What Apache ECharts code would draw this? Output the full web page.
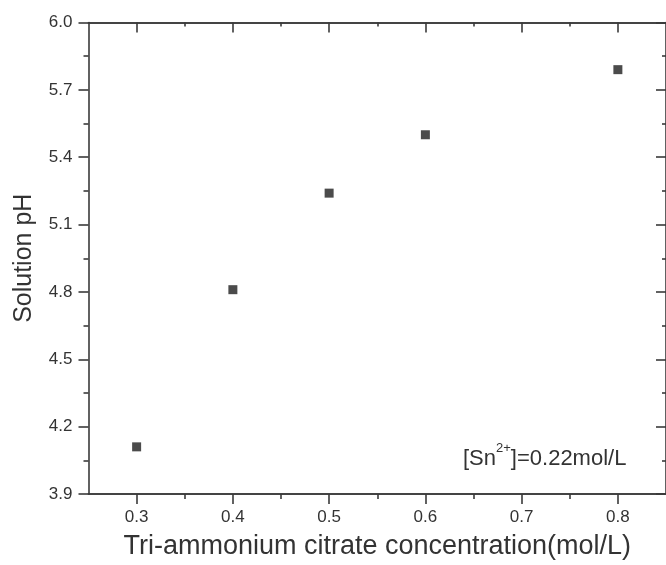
<!DOCTYPE html>
<html>
<head>
<meta charset="utf-8">
<script src="https://cdn.jsdelivr.net/npm/echarts@6/dist/echarts.min.js"></script>
<style>html,body{margin:0;padding:0;background:#fff;}#c{width:666px;height:565px;}</style>
</head>
<body>
<div id="c"></div>
<script>
const concentration = [0.3, 0.4, 0.5, 0.6, 0.8];
const solutionPH = [4.11, 4.81, 5.24, 5.50, 5.79];
const xMajorTicks = [0.3, 0.4, 0.5, 0.6, 0.7, 0.8];
const xMinorTicks = [0.35, 0.45, 0.55, 0.65, 0.75];
const xTitle = 'Tri-ammonium citrate concentration(mol/L)';
const yTitle = 'Solution pH';

const axisColor = '#3a3a3a';
const textColor = '#333';
const font = 'Arial, "Liberation Sans", sans-serif';

const chart = echarts.init(document.getElementById('c'), null, {renderer: 'canvas'});
const lineStyle = {color: axisColor, width: 1.6};
function xAx(pos, opts) {
  return Object.assign({
    type: 'value', position: pos, min: 0.25, max: 0.85,
    axisLine: {show: true, onZero: false, lineStyle: lineStyle},
    splitLine: {show: false},
    axisLabel: {show: false},
    axisTick: {show: false}
  }, opts);
}
chart.setOption({
  animation: false,
  grid: {left: 88.5, right: -6, top: 22.5, bottom: 68.5, containLabel: false},
  xAxis: [
    xAx('bottom', {
      name: xTitle, nameLocation: 'middle', nameGap: 39,
      nameTextStyle: {fontSize: 27, color: textColor, fontFamily: font},
      axisTick: {show: true, customValues: xMinorTicks, length: 5, inside: false, lineStyle: lineStyle},
    }),
    xAx('bottom', {
      axisTick: {show: true, customValues: xMajorTicks, length: 10, inside: false, lineStyle: lineStyle},
      axisLabel: {show: true, customValues: xMajorTicks, margin: 15, fontSize: 17, color: textColor, fontFamily: font,
        formatter: v => v.toFixed(1)}
    }),
    xAx('top', {
      axisTick: {show: true, customValues: xMinorTicks, length: 4, inside: true, lineStyle: lineStyle}
    }),
    xAx('top', {
      axisTick: {show: true, customValues: xMajorTicks, length: 10, inside: true, lineStyle: lineStyle}
    })
  ],
  yAxis: [
    {
      type: 'value', position: 'left', min: 3.9, max: 6.0, interval: 0.3,
      name: yTitle, nameLocation: 'middle', nameGap: 52,
      nameTextStyle: {fontSize: 25, color: textColor, fontFamily: font},
      axisLine: {show: true, onZero: false, lineStyle: lineStyle},
      axisTick: {show: true, length: 10, inside: false, lineStyle: lineStyle},
      minorTick: {show: true, splitNumber: 2, length: 5, lineStyle: lineStyle},
      splitLine: {show: false},
      axisLabel: {margin: 16, fontSize: 17, color: textColor, fontFamily: font, formatter: v => v.toFixed(1)}
    },
    {
      type: 'value', position: 'right', min: 3.9, max: 6.0, interval: 0.3,
      axisLine: {show: true, onZero: false, lineStyle: lineStyle},
      axisTick: {show: true, length: 10, inside: true, lineStyle: lineStyle},
      minorTick: {show: true, splitNumber: 2, length: 4, lineStyle: lineStyle},
      splitLine: {show: false},
      axisLabel: {show: false}
    }
  ],
  series: [{
    type: 'scatter', xAxisIndex: 1, yAxisIndex: 0,
    symbol: 'rect', symbolSize: 9,
    itemStyle: {color: '#1e1e1e'},
    data: concentration.map((x, i) => [x, solutionPH[i]])
  }],
  graphic: [{
    type: 'text', left: 463, top: 442,
    style: {
      text: '{a|[Sn}{s|2+}{a|]=0.22mol/L}',
      rich: {
        a: {fontSize: 22, fill: textColor, fontFamily: font, verticalAlign: 'bottom', lineHeight: 28},
        s: {fontSize: 13, fill: textColor, fontFamily: font, verticalAlign: 'top', lineHeight: 28, padding: [0, 0, 12, 0]}
      }
    }
  }]
});
</script>
</body>
</html>
